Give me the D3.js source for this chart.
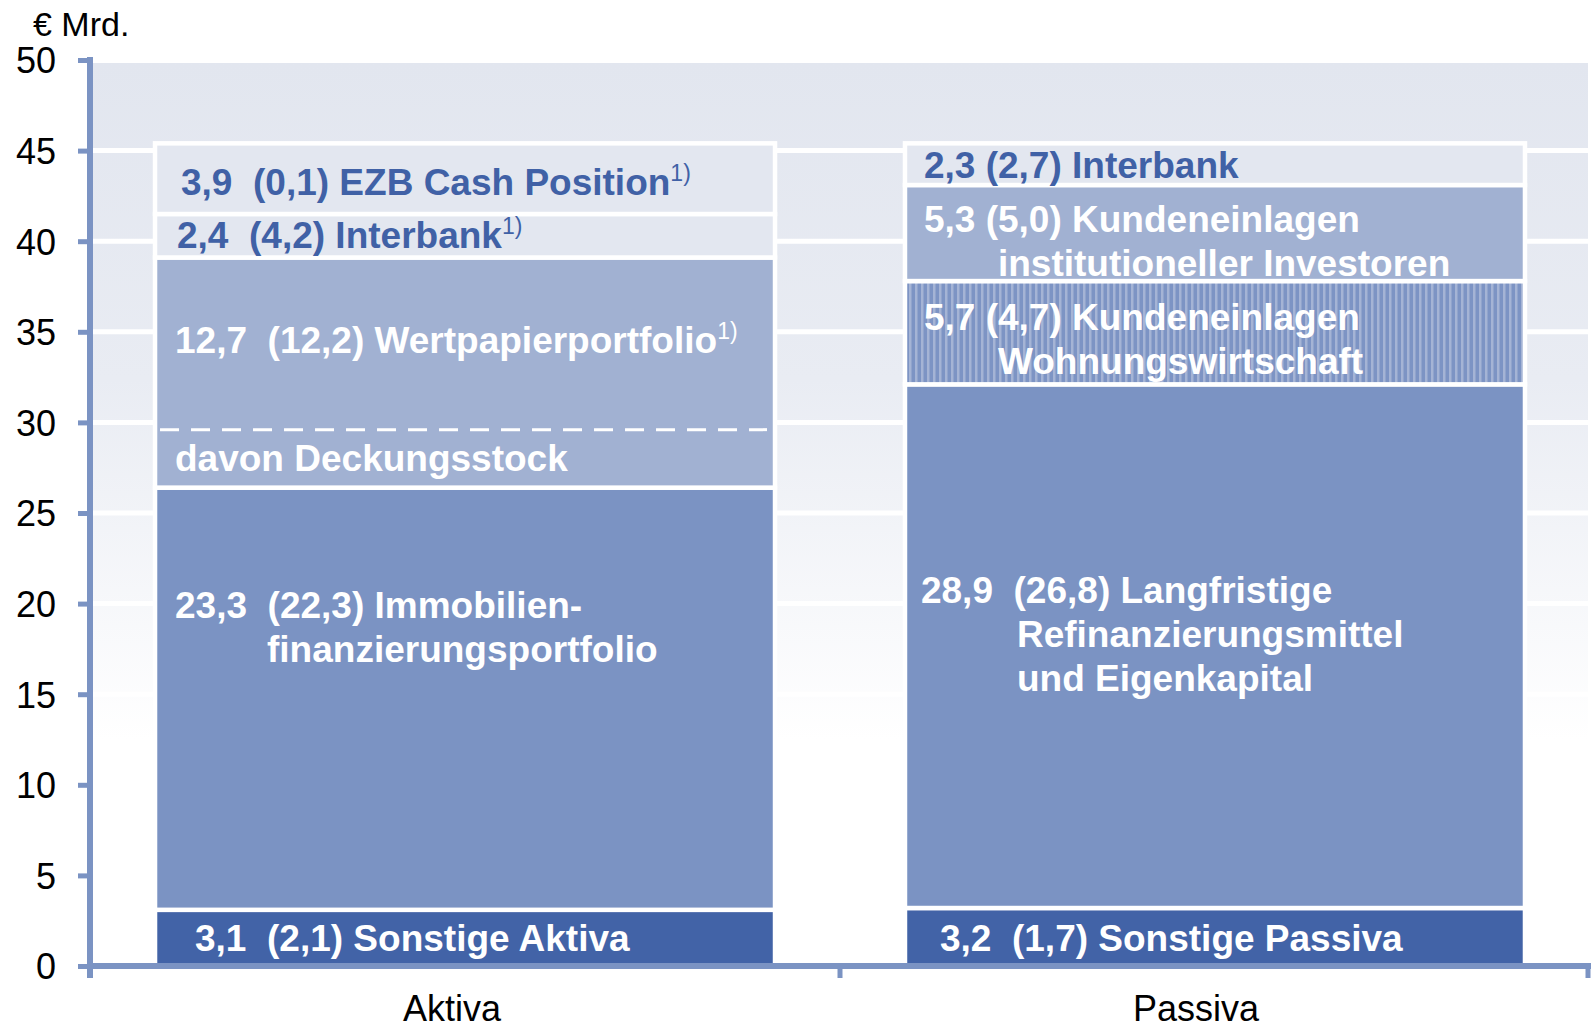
<!DOCTYPE html>
<html lang="de">
<head>
<meta charset="utf-8">
<title>Bilanzstruktur</title>
<script src="https://cdn.jsdelivr.net/npm/d3@7"></script>
<style>
  body { margin: 0; background: #fff; }
  svg text { font-family: "Liberation Sans", Arial, sans-serif; }
</style>
</head>
<body>
<script>

// categories and stacked values (bottom to top), € Mrd.
var categories = ["Aktiva", "Passiva"];

var aktivaValues = [3.1, 23.3, 12.7, 2.4, 3.9];
var aktivaPrior  = [2.1, 22.3, 12.2, 4.2, 0.1];
var aktivaNames  = [["Sonstige Aktiva"], ["Immobilien-", "finanzierungsportfolio"], ["Wertpapierportfolio"], ["Interbank"], ["EZB Cash Position"]];
var aktivaNotes  = ["", "", "1)", "1)", "1)"];

var passivaValues = [3.2, 28.9, 5.7, 5.3, 2.3];
var passivaPrior  = [1.7, 26.8, 4.7, 5.0, 2.7];
var passivaNames  = [["Sonstige Passiva"], ["Langfristige", "Refinanzierungsmittel", "und Eigenkapital"], ["Kundeneinlagen", "Wohnungswirtschaft"], ["Kundeneinlagen", "institutioneller Investoren"], ["Interbank"]];

// part of the Wertpapierportfolio that is Deckungsstock
var deckungsstock = 3.2;

var yTicks = [0, 5, 10, 15, 20, 25, 30, 35, 40, 45, 50];
var yUnit = "€ Mrd.";

// layout / styles
var w = 1591, h = 1029;
var axisColor = "#7b93c3";
var darkText = "#4061a6";

var aktivaFill  = ["#4263a7", "#7b93c3", "#a1b1d2", "#e3e7f0", "#e3e7f0"];
var passivaFill = ["#4263a7", "#7b93c3", "url(#stripes)", "#a1b1d2", "#e3e7f0"];
var aktivaTextColor  = ["#fff", "#fff", "#fff", darkText, darkText];
var passivaTextColor = ["#fff", "#fff", "#fff", "#fff", darkText];

// label placement: dx from bar left, dy from segment top, indent of follow-up lines
var aktivaLayout  = [{dx: 40, dy: 41, ind: 112, gap: "  "}, {dx: 20, dy: 130, ind: 112, gap: "  "}, {dx: 20, dy: 95, ind: 0, gap: "  "}, {dx: 22, dy: 34, ind: 0, gap: "  "}, {dx: 26, dy: 52, ind: 0, gap: "  "}];
var passivaLayout = [{dx: 35, dy: 43, ind: 0, gap: "  "}, {dx: 16, dy: 219, ind: 112, gap: "  "}, {dx: 19, dy: 49, ind: 93, gap: " "}, {dx: 19, dy: 47, ind: 93, gap: " "}, {dx: 19, dy: 35, ind: 0, gap: " "}];
var catLabelDx = [-13, -19];

var fmt = function(v) { return d3.format(".1f")(v).replace(".", ","); };

var y = d3.scaleLinear().domain([0, 50]).range([966, 60]);
var x = d3.scaleBand().domain(categories).range([90, 1590]).paddingInner(0.1733).paddingOuter(0.0867);

var svg = d3.select("body").append("svg")
  .attr("width", w)
  .attr("height", h);

var defs = svg.append("defs");
var grad = defs.append("linearGradient")
  .attr("id", "bg").attr("x1", 0).attr("y1", 0).attr("x2", 0).attr("y2", 1);
grad.append("stop").attr("offset", "0%").attr("stop-color", "#e2e6ef");
grad.append("stop").attr("offset", "35%").attr("stop-color", "#e9ecf3");
grad.append("stop").attr("offset", "75%").attr("stop-color", "#ffffff");
grad.append("stop").attr("offset", "100%").attr("stop-color", "#ffffff");

var pat = defs.append("pattern")
  .attr("id", "stripes").attr("patternUnits", "userSpaceOnUse")
  .attr("width", 6).attr("height", 10);
pat.append("rect").attr("width", 6).attr("height", 10).attr("fill", "#7d94c4");
pat.append("rect").attr("x", 3).attr("width", 2.5).attr("height", 10).attr("fill", "#a5b4d5");

// plot background
svg.append("rect")
  .attr("x", 93).attr("y", 63)
  .attr("width", 1588 - 93).attr("height", y(0) - 63)
  .attr("fill", "url(#bg)");

// gridlines
svg.append("g").selectAll("line")
  .data(yTicks.filter(function(d) { return d > 0 && d < 50; }))
  .enter().append("line")
  .attr("x1", 93).attr("x2", 1588)
  .attr("y1", function(d) { return y(d); })
  .attr("y2", function(d) { return y(d); })
  .attr("stroke", "#fff")
  .attr("stroke-width", 5);

// stacked bars
function drawBar(cat, values, prior, names, fills, colors, layout) {
  var g = svg.append("g");
  var base = 0;
  var segs = values.map(function(v, i) {
    var s = {i: i, v: v, p: prior[i], y0: base, y1: base + v};
    base += v;
    return s;
  });

  g.selectAll("rect")
    .data(segs)
    .enter().append("rect")
    .attr("x", x(cat))
    .attr("width", x.bandwidth())
    .attr("y", function(d) { return y(d.y1); })
    .attr("height", function(d) { return y(d.y0) - y(d.y1); })
    .attr("fill", function(d) { return fills[d.i]; })
    .attr("stroke", "#fff")
    .attr("stroke-width", 4.5);

  segs.forEach(function(d) {
    var L = layout[d.i];
    var x0 = x(cat) + L.dx;
    var top = y(d.y1);
    var t = g.append("text")
      .attr("x", x0)
      .attr("y", top + L.dy)
      .attr("fill", colors[d.i])
      .attr("font-size", 37)
      .attr("font-weight", "bold")
      .style("white-space", "pre");
    t.append("tspan").text(fmt(d.v) + L.gap + "(" + fmt(d.p) + ") " + names[d.i][0]);
    if (cat === "Aktiva" && aktivaNotes[d.i]) {
      t.append("tspan").attr("font-size", 23).attr("font-weight", "normal")
        .attr("dy", -14).text(aktivaNotes[d.i]);
    }
    names[d.i].slice(1).forEach(function(line, k) {
      g.append("text")
        .attr("x", x(cat) + L.ind)
        .attr("y", top + L.dy + 44 * (k + 1))
        .attr("fill", colors[d.i])
        .attr("font-size", 37)
        .attr("font-weight", "bold")
        .text(line);
    });
  });
  return segs;
}

var aSegs = drawBar("Aktiva", aktivaValues, aktivaPrior, aktivaNames, aktivaFill, aktivaTextColor, aktivaLayout);
drawBar("Passiva", passivaValues, passivaPrior, passivaNames, passivaFill, passivaTextColor, passivaLayout);

// Deckungsstock: dashed line inside Wertpapierportfolio
var wp = aSegs[2];
svg.append("line")
  .attr("x1", x("Aktiva") + 5).attr("x2", x("Aktiva") + x.bandwidth() - 8)
  .attr("y1", y(wp.y0 + deckungsstock)).attr("y2", y(wp.y0 + deckungsstock))
  .attr("stroke", "#fff").attr("stroke-width", 3)
  .attr("stroke-dasharray", "19,12");
svg.append("text")
  .attr("x", x("Aktiva") + 20)
  .attr("y", y(wp.y0 + deckungsstock) + 41)
  .attr("fill", "#fff")
  .attr("font-size", 37)
  .attr("font-weight", "bold")
  .text("davon Deckungsstock");

// Y axis
var yAxis = d3.axisLeft(y).tickValues(yTicks).tickSize(12).tickSizeOuter(0).tickPadding(22);
var gy = svg.append("g").attr("transform", "translate(90,0)").call(yAxis);
gy.select(".domain").remove();
gy.selectAll(".tick line").attr("stroke", axisColor).attr("stroke-width", 5);
gy.selectAll(".tick text")
  .attr("font-size", 36).attr("fill", "#000").attr("dy", "0.36em")
  .style("font-family", "'Liberation Sans', Arial, sans-serif");
svg.append("line")
  .attr("x1", 90).attr("x2", 90).attr("y1", 57).attr("y2", 978)
  .attr("stroke", axisColor).attr("stroke-width", 6);

// X axis
var xAxis = d3.axisBottom(x).tickSize(0).tickPadding(29);
var gx = svg.append("g").attr("transform", "translate(0," + y(0) + ")").call(xAxis);
gx.select(".domain").remove();
gx.selectAll(".tick text")
  .attr("font-size", 36).attr("fill", "#000")
  .attr("dx", function(d, i) { return catLabelDx[i]; })
  .style("font-family", "'Liberation Sans', Arial, sans-serif");
svg.append("line")
  .attr("x1", 87).attr("x2", w).attr("y1", y(0)).attr("y2", y(0))
  .attr("stroke", axisColor).attr("stroke-width", 6);
svg.append("g").selectAll("line")
  .data([90, 840, 1588])
  .enter().append("line")
  .attr("x1", function(d) { return d; }).attr("x2", function(d) { return d; })
  .attr("y1", y(0)).attr("y2", y(0) + 12)
  .attr("stroke", axisColor).attr("stroke-width", 5);

// unit label
svg.append("text")
  .attr("x", 33).attr("y", 36)
  .attr("font-size", 34)
  .attr("fill", "#000")
  .text(yUnit);

</script>
</body>
</html>
